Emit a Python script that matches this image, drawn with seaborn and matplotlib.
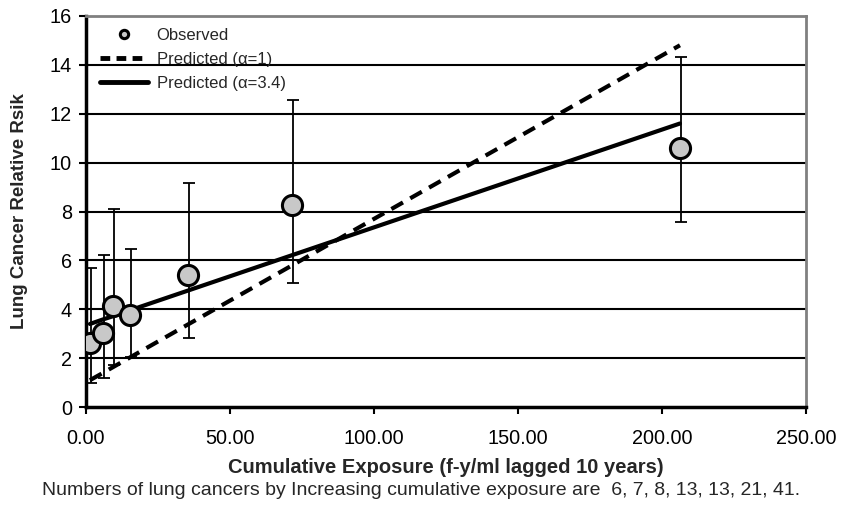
import matplotlib
matplotlib.use("Agg")
import matplotlib.pyplot as plt
import seaborn as sns
import pandas as pd
from matplotlib.lines import Line2D

# Cumulative exposure categories (f-y/ml, lagged 10 years)
exposure = [1.4, 5.8, 9.5, 15.3, 35.3, 71.5, 206.3]
observed_rr = [2.62, 3.02, 4.14, 3.77, 5.41, 8.28, 10.60]
ci_lower = [0.97, 1.18, 1.72, 2.06, 2.84, 5.07, 7.57]
ci_upper = [5.68, 6.23, 8.10, 6.46, 9.15, 12.55, 14.33]
pred_alpha1 = [1.10, 1.39, 1.64, 2.03, 3.37, 5.79, 14.80]
pred_alpha34 = [3.40, 3.58, 3.72, 3.96, 4.76, 6.21, 11.60]
x_ticks = [0, 50, 100, 150, 200, 250]
y_ticks = [0, 2, 4, 6, 8, 10, 12, 14, 16]
case_counts = [6, 7, 8, 13, 13, 21, 41]

sns.set_theme(style="white")
plt.rcParams["font.family"] = ["Liberation Sans", "DejaVu Sans"]

df = pd.DataFrame({"x": exposure, "rr": observed_rr,
                   "lo": ci_lower, "hi": ci_upper,
                   "p1": pred_alpha1, "p34": pred_alpha34})

fig = plt.figure(figsize=(8.42, 5.14), dpi=100)
ax = fig.add_axes([0.102, 0.208, 0.855, 0.761])

for y in y_ticks[1:-1]:
    ax.axhline(y, color="black", lw=1.5, zorder=1)

dash = (0, (3.2, 2.0))
sns.lineplot(data=df, x="x", y="p1", ax=ax, color="black", lw=3,
             linestyle=dash, zorder=3)
sns.lineplot(data=df, x="x", y="p34", ax=ax, color="black", lw=3, zorder=3)

ax.errorbar(df["x"] + 0.4, df["rr"],
            yerr=[df["rr"] - df["lo"], df["hi"] - df["rr"]],
            fmt="none", ecolor="black", elinewidth=1.3, capsize=4,
            capthick=1.3, zorder=4)
sns.scatterplot(data=df, x="x", y="rr", ax=ax, s=210, color="#c8c8c8",
                edgecolor="black", linewidth=2.2, zorder=5)

ax.set_xlim(0, 250)
ax.set_ylim(0, 16)
ax.set_xticks(x_ticks)
ax.set_xticklabels([f"{v:.2f}" for v in x_ticks])
ax.set_yticks(y_ticks)
ax.tick_params(axis="both", labelsize=14.3, colors="black", length=5,
               width=1.5, direction="out", bottom=True, left=True)
ax.tick_params(axis="x", pad=11)
ax.tick_params(axis="y", pad=5)

for side in ("left", "bottom"):
    ax.spines[side].set_color("black")
    ax.spines[side].set_linewidth(2.5)
for side in ("top", "right"):
    ax.spines[side].set_color("#808080")
    ax.spines[side].set_linewidth(2)

ax.set_xlabel("Cumulative Exposure (f-y/ml lagged 10 years)",
              fontsize=14.5, fontweight="bold", labelpad=7)
ax.set_ylabel("Lung Cancer Relative Rsik", fontsize=13.5,
              fontweight="bold", labelpad=16)

handles = [
    Line2D([], [], marker="o", linestyle="none", markersize=6,
           markerfacecolor="#c8c8c8", markeredgecolor="black",
           markeredgewidth=2.2),
    Line2D([], [], color="black", lw=3.5, linestyle=(0, (2.0, 1.3))),
    Line2D([], [], color="black", lw=3.5),
]
ax.legend(handles, ["Observed", "Predicted (\u03b1=1)", "Predicted (\u03b1=3.4)"],
          loc="upper left", bbox_to_anchor=(14 / 720, 1 - 12 / 391),
          frameon=False, fontsize=12, handlelength=2.9,
          handletextpad=0.5, labelspacing=0.55, borderaxespad=0,
          borderpad=0)

fig.text(0.5, 0.045,
         "Numbers of lung cancers by Increasing cumulative exposure are  "
         + ", ".join(str(c) for c in case_counts) + ".",
         ha="center", va="center", fontsize=14)

fig.savefig("out.png", dpi=100)
